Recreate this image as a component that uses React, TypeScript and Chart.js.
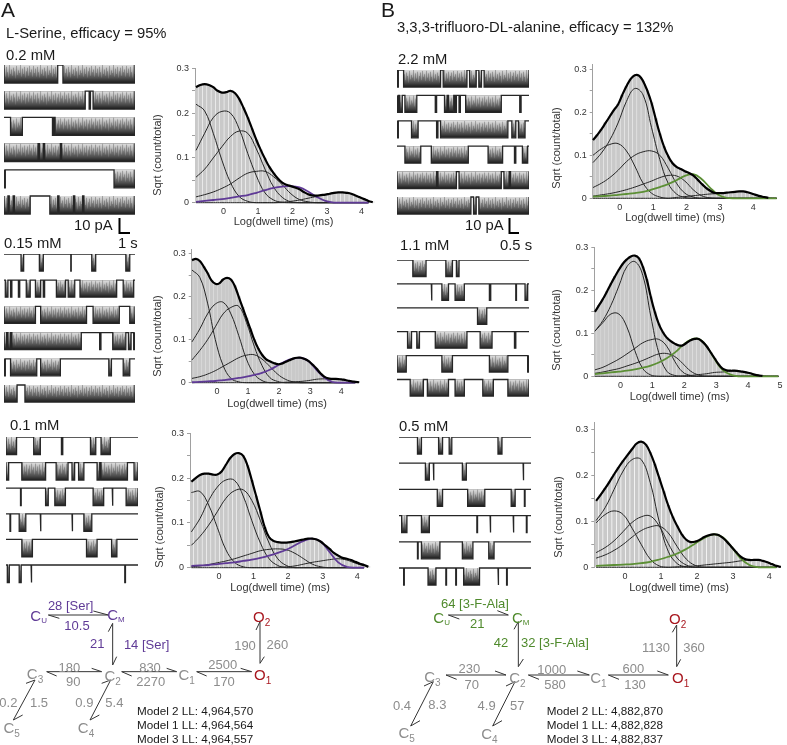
import React, { useEffect, useRef } from "react";
import { Chart, registerables } from "chart.js";

Chart.register(...registerables);
const FONT = '"Liberation Sans", Arial, sans-serif';
Chart.defaults.font.family = FONT;

// ---------- histogram bins and fitted curve grid (log10 dwell, ms) ----------
const binCenters = [-0.8,-0.675,-0.55,-0.425,-0.3,-0.175,-0.05,0.075,0.2,0.325,0.45,0.575,0.7,0.825,0.95,1.075,1.2,1.325,1.45,1.575,1.7,1.825,1.95,2.075,2.2,2.325,2.45,2.575,2.7,2.825,2.95,3.075,3.2,3.325,3.45,3.575,3.7,3.825,3.95,4.075,4.2,4.325,4.45,4.575,4.7,4.825,4.95];
const curveGrid = [-0.8,-0.55,-0.3,-0.05,0.2,0.45,0.7,0.95,1.2,1.45,1.7,1.95,2.2,2.45,2.7,2.95,3.2,3.45,3.7,3.95,4.2,4.45,4.7,4.95];

// ---------- panel A, 0.2 mM ----------
const a1Total = [.258,.263,.265,.263,.258,.25,.246,.247,.25,.245,.232,.212,.19,.165,.14,.118,.098,.08,.066,.054,.045,.04,.037,.034,.03,.024,.019,.016,.016,.017,.018,.02,.022,.023,.023,.022,.02,.016,.012,.008,.004,.001];
const a1C1 = [.22,.205,.155,.095,.045,.014,.003];
const a1C2 = [.117,.155,.19,.204,.2,.165,.11,.06,.022,.006,.001];
const a1C3 = [.057,.075,.1,.125,.148,.16,.155,.12,.075,.035,.012,.002];
const a1C4 = [.013,.018,.024,.032,.042,.055,.066,.07,.07,.058,.04,.02,.007,.002];
const a1C5 = [0,0,0,0,0,0,0,0,0,0,.001,.003,.006,.01,.014,.018,.022,.023,.02,.012,.004];
const a1Col = [.002,.004,.006,.008,.011,.014,.017,.022,.028,.033,.036,.037,.034,.025,.013,.004];

// ---------- panel A, 0.15 mM ----------
const a2Total = [.285,.288,.283,.27,.255,.238,.23,.231,.24,.244,.24,.225,.2,.175,.15,.125,.1,.08,.065,.055,.05,.046,.043,.044,.048,.052,.056,.058,.058,.055,.05,.042,.033,.022,.014,.01,.009,.009,.008,.007,.005,.003,.002,.001];
const a2C1 = [.262,.245,.185,.1,.04,.01,.002];
const a2C2 = [.095,.125,.16,.183,.187,.16,.11,.055,.02,.005];
const a2C3 = [.053,.075,.1,.13,.16,.175,.178,.14,.085,.04,.012,.003];
const a2C4 = [.01,.014,.02,.028,.038,.048,.058,.064,.065,.055,.038,.02,.008,.002];
const a2C5 = [0,0,0,0,0,0,0,0,0,0,0,0,.001,.002,.003,.005,.008,.009,.009,.008,.005,.002];
const a2Col = [.001,.002,.003,.004,.006,.008,.011,.014,.018,.023,.03,.04,.05,.056,.058,.05,.03,.012,.002];

// ---------- panel A, 0.1 mM ----------
const a3Total = [.192,.2,.207,.21,.21,.208,.208,.215,.23,.245,.254,.256,.25,.228,.195,.16,.125,.09,.068,.06,.057,.056,.056,.057,.059,.061,.063,.065,.065,.063,.058,.05,.042,.033,.027,.022,.02,.017,.013,.009,.006,.002];
const a3C1 = [.168,.17,.14,.09,.04,.012,.002];
const a3C2 = [.08,.11,.15,.18,.196,.195,.16,.105,.055,.02,.005];
const a3C3 = [.05,.07,.095,.125,.155,.172,.174,.15,.105,.055,.02,.005];
const a3C4 = [.002,.004,.007,.011,.015,.02,.026,.032,.038,.041,.042,.04,.032,.02,.008,.002];
const a3C5 = [0,0,0,0,0,0,0,0,0,0,.001,.002,.004,.008,.012,.015,.018,.02,.017,.01,.004];
const a3Col = [.004,.005,.006,.008,.01,.012,.015,.018,.022,.027,.033,.04,.05,.06,.065,.058,.035,.012,.002];

// ---------- panel B, 2.2 mM ----------
const b1Total = [.135,.147,.16,.175,.19,.205,.218,.24,.26,.277,.286,.285,.272,.25,.222,.185,.15,.12,.098,.082,.073,.068,.063,.059,.053,.044,.034,.025,.018,.013,.012,.012,.013,.014,.015,.016,.016,.014,.011,.008,.005,.003,.001];
const b1C1 = [.083,.105,.135,.175,.225,.255,.24,.165,.09,.035,.01,.002];
const b1C2 = [.1,.115,.125,.127,.11,.075,.035,.012,.003];
const b1C3 = [.025,.035,.048,.065,.085,.1,.108,.11,.1,.07,.035,.012,.003];
const b1C4 = [.005,.008,.011,.015,.02,.026,.033,.04,.048,.053,.052,.04,.02,.006,.001];
const b1C5 = [0,0,0,0,0,0,0,0,0,0,.002,.004,.006,.008,.01,.011,.013,.015,.016,.011,.005,.001];
const b1Col = [.004,.005,.006,.008,.01,.012,.015,.02,.026,.033,.042,.052,.056,.045,.025,.008,.001];

// ---------- panel B, 1.1 mM ----------
const b2Total = [.15,.165,.18,.197,.215,.232,.248,.262,.272,.279,.281,.275,.255,.225,.185,.15,.122,.103,.09,.082,.076,.072,.072,.078,.084,.087,.087,.08,.07,.056,.042,.028,.018,.014,.013,.013,.012,.011,.009,.007,.004,.002,.001];
const b2C1 = [.105,.13,.165,.21,.255,.267,.235,.14,.055,.012,.002];
const b2C2 = [.105,.125,.145,.145,.115,.06,.018,.003];
const b2C3 = [.015,.021,.03,.04,.052,.065,.078,.085,.086,.07,.035,.01,.002];
const b2C4 = [.007,.01,.014,.018,.024,.03,.037,.045,.052,.053,.046,.03,.012,.003];
const b2C5 = [0,0,0,0,0,0,0,0,0,0,0,.001,.002,.004,.006,.009,.01,.012,.012,.009,.004,.001];
const b2Col = [.005,.007,.009,.011,.013,.016,.02,.025,.032,.042,.055,.072,.085,.087,.07,.04,.015,.004];

// ---------- panel B, 0.5 mM ----------
const b3Total = [.145,.158,.172,.187,.203,.218,.232,.245,.258,.27,.274,.268,.25,.225,.195,.165,.135,.11,.09,.072,.06,.055,.056,.06,.066,.07,.072,.071,.065,.056,.045,.034,.024,.018,.016,.016,.016,.014,.011,.007,.003,.001];
const b3C1 = [.102,.13,.17,.21,.235,.235,.185,.1,.035,.008,.001];
const b3C2 = [.097,.115,.123,.115,.085,.05,.018,.003];
const b3C3 = [.032,.043,.058,.078,.098,.11,.112,.09,.052,.02,.005];
const b3C4 = [.02,.027,.037,.05,.066,.08,.088,.09,.075,.045,.018,.004];
const b3C5 = [0,0,0,0,0,0,0,0,0,.001,.002,.003,.005,.007,.009,.011,.014,.016,.016,.011,.003];
const b3Col = [.003,.004,.005,.006,.007,.009,.012,.017,.023,.03,.04,.052,.064,.072,.066,.045,.02,.005];

// ---------- single-channel records: burst intervals, % of record width ----------
const traceA1 = [
  [[0,41],[45,100]],
  [[0,62],[65,66],[68,100]],
  [[5,14],[37,38],[39,100]],
  [[0,26],[27,30],[31,43],[44,100]],
  [[0,1],[84,100]],
  [[0,3],[4,7],[8,20],[35,41],[42,53],[54,60],[61,100]],
];
const traceA2 = [
  [[13,15],[27,30],[51,51.3],[67,70],[93,96]],
  [[1,3],[5,6],[11,12],[17,20],[24,28],[30,31],[40,47],[49,54],[58,86],[91,99]],
  [[0,24],[28,63],[68,88],[96,100]],
  [[0,2],[3,5],[6,59],[73,74],[83,93],[95,97],[99,100]],
  [[0,1],[5,25],[28,43],[80,82],[91,96]],
  [[0,10],[16,100]],
];
const traceA3 = [
  [[0,8],[21,26],[42,43],[64,68],[72,79]],
  [[0,2],[12,30],[38,47],[50,52],[55,59],[69,71],[72,92],[97,100]],
  [[11,11.5],[30,32],[37,45],[66,74],[80.5,81],[91,100]],
  [[3,3.5],[10,15],[26,26.5],[50,50.5],[59,65]],
  [[12,20],[61,69],[80,84]],
  [[1,2.5],[10,11.5],[19,19.5],[90,90.5]],
];
const traceB1 = [
  [[0,1],[5,33],[35,53],[55,60],[62,64],[66,100]],
  [[0,1],[2,4],[6,15],[29,30],[36,38],[39,43],[44,45],[47,48],[52,79],[93,94]],
  [[0,1],[11,16],[30,31],[33,84],[87,90],[92,97]],
  [[6,18],[26,54],[69,80],[89,90],[95,99]],
  [[0,30],[31,45],[47,79],[81,85],[86,100]],
  [[0,56],[58,60],[62,100]],
];
const traceB2 = [
  [[12,22],[37,42],[45,47]],
  [[26,26.5],[34,39],[44,51],[70,71],[90,90.5],[97,99]],
  [[61,68]],
  [[8,11],[15,17],[29,53],[63,72],[89,90]],
  [[0,7],[34,42],[70,84],[99,100]],
  [[10,20],[23,39],[44,51],[65,73],[84,100]],
];
const traceB3 = [
  [[14,17],[30,33],[38,40],[75,78]],
  [[20,23],[26,26.5],[48,51],[94,94.5]],
  [[29,33],[52,65],[85,88],[95,95.5]],
  [[2,6],[17,23],[59,59.5],[69,69.5],[86.5,87],[96.5,97]],
  [[14,14.5],[17,31],[48,56],[68,72]],
  [[3.5,4],[22,28],[35.5,36],[43,43.5],[49,61],[75,75.5],[81.5,82]],
];
const streakHeights = [.95,.55,.8,.35,.9,.6,.3,1,.5,.75,.4,.85,.65,.25,.95,.45,.7,.55,1,.35,.8,.5,.9,.3,.65,.85,.4,.95,.6,.75,.35];

// ---------- layout of the panels on the page ----------
const histPanels = [
  { total:a1Total, comps:[a1C1,a1C2,a1C3,a1C4,a1C5], fit:a1Col, color:"#5f3a96", axisX:195, y0:202.7, yTop:64.3, yMax:.3, xMin:-.83, xMax:4.41, right:375.7, drop:19.5, titleX:158, titleY:155, xTitleX:283.5 },
  { total:a2Total, comps:[a2C1,a2C2,a2C3,a2C4,a2C5], fit:a2Col, color:"#5f3a96", axisX:191.7, y0:382.7, yTop:244.5, yMax:.31, xMin:-.81, xMax:4.6, right:360, drop:21.6, titleX:158, titleY:336, xTitleX:277 },
  { total:a3Total, comps:[a3C1,a3C2,a3C3,a3C4,a3C5], fit:a3Col, color:"#5f3a96", axisX:190, y0:567.7, yTop:429.3, yMax:.3, xMin:-.84, xMax:4.4, right:371, drop:20, titleX:160, titleY:527, xTitleX:280 },
  { total:b1Total, comps:[b1C1,b1C2,b1C3,b1C4,b1C5], fit:b1Col, color:"#5c8f35", axisX:592.7, y0:198.3, yTop:60, yMax:.311, xMin:-.81, xMax:4.8, right:780, drop:20, titleX:557, titleY:148, xTitleX:675 },
  { total:b2Total, comps:[b2C1,b2C2,b2C3,b2C4,b2C5], fit:b2Col, color:"#5c8f35", axisX:594.3, y0:376.3, yTop:243, yMax:.3, xMin:-.82, xMax:5, right:780, drop:20.7, titleX:557, titleY:330, xTitleX:679.5 },
  { total:b3Total, comps:[b3C1,b3C2,b3C3,b3C4,b3C5], fit:b3Col, color:"#5c8f35", axisX:594.3, y0:567.3, yTop:418, yMax:.316, xMin:-.85, xMax:4.3, right:780, drop:21, titleX:559, titleY:517, xTitleX:679 },
];
const tracePanels = [
  { rows:traceA1, left:4, width:131, top:65, pitch:26.2, band:18 },
  { rows:traceA2, left:4, width:131, top:254, pitch:26.2, band:17 },
  { rows:traceA3, left:6, width:132, top:437, pitch:25.6, band:17.5 },
  { rows:traceB1, left:397, width:132, top:70, pitch:25.4, band:17 },
  { rows:traceB2, left:397, width:132, top:260, pitch:23.9, band:16.5 },
  { rows:traceB3, left:399, width:132, top:437, pitch:26.2, band:17 },
];

function useChart(make: () => any) {
  const ref = useRef<HTMLCanvasElement>(null);
  useEffect(() => {
    const chart = new Chart(ref.current as HTMLCanvasElement, make());
    return () => chart.destroy();
  }, []);
  return ref;
}

function Histogram({ p }: { p: any }) {
  const left = Math.round(p.axisX - 50);
  const leftW = p.axisX - left;
  const top = Math.round(p.yTop - 4);
  const pad = p.yTop - top;
  const h = Math.ceil(p.y0 - top + p.drop + 7);
  const xH = h - (p.y0 - top);
  const w = Math.ceil(p.right - left + 7);
  const ref = useChart(() => {
    const curve = (arr: number[], color: string, width: number, order: number) => ({
      type: "line",
      data: curveGrid.filter((x) => x <= p.xMax).map((x, i) => ({ x, y: arr[i] ?? 0 })),
      borderColor: color,
      borderWidth: width,
      pointRadius: 0,
      tension: 0.4,
      clip: false,
      order,
    });
    return {
      type: "bar",
      data: {
        datasets: [
          { type: "bar", data: p.total.map((y: number, i: number) => ({ x: binCenters[i], y })), backgroundColor: "#c9c9c9", barThickness: 3.1, order: 9 },
          ...p.comps.map((c: number[]) => curve(c, "#262626", 1, 5)),
          curve(p.fit, p.color, 1.8, 3),
          {
            type: "line",
            data: p.total.map((y: number, i: number) => ({ x: binCenters[i], y })),
            borderColor: "#000",
            borderWidth: 2.2,
            pointRadius: 0,
            tension: 0.4,
            clip: false,
            order: 1,
          },
        ],
      },
      options: {
        animation: false,
        responsive: false,
        events: [],
        layout: { padding: { top: pad, right: w - (p.right - left), left: 0, bottom: 0 } },
        plugins: { legend: { display: false }, tooltip: { enabled: false } },
        scales: {
          x: {
            type: "linear",
            min: p.xMin,
            max: p.xMax,
            offset: false,
            grid: { display: false, drawTicks: false },
            border: { display: false },
            afterFit: (s: any) => { s.height = xH; },
            ticks: { stepSize: 1, includeBounds: false, autoSkip: false, maxRotation: 0, padding: 3.5, color: "#333", font: { size: 9 }, callback: (v: number) => String(v) },
          },
          y: {
            min: 0,
            max: p.yMax,
            grid: { drawOnChartArea: false, tickLength: 3, tickColor: "#a0a0a0" },
            border: { color: "#a0a0a0" },
            afterFit: (s: any) => { s.width = leftW; },
            ticks: {
              stepSize: 0.05, includeBounds: false, autoSkip: false, padding: 3, color: "#333", font: { size: 9 },
              callback: (v: number) => {
                const k = Math.round(v * 100);
                return k % 10 === 0 ? String(k / 100) : "";
              },
            },
          },
        },
      },
      plugins: [{
        id: "axisTitles",
        afterDraw(chart: any) {
          const c = chart.ctx;
          c.save();
          c.font = `11px ${FONT}`;
          c.fillStyle = "#333";
          c.textAlign = "center";
          c.textBaseline = "middle";
          c.fillText("Log(dwell time) (ms)", p.xTitleX - left, p.y0 + p.drop - top);
          c.translate(p.titleX - left, p.titleY - top);
          c.rotate(-Math.PI / 2);
          c.fillText("Sqrt (count/total)", 0, 0);
          c.restore();
        },
      }],
    };
  });
  return <canvas ref={ref} width={w} height={h} style={{ position: "absolute", left, top, width: w, height: h }} />;
}

function streakPattern(ctx: CanvasRenderingContext2D, band: number, rowTop: number) {
  const tile = document.createElement("canvas");
  const th = Math.ceil(band);
  tile.width = streakHeights.length;
  tile.height = th;
  const t = tile.getContext("2d") as CanvasRenderingContext2D;
  const g = t.createLinearGradient(0, 0, 0, th);
  g.addColorStop(0, "rgba(170,170,170,.4)");
  g.addColorStop(0.55, "rgba(105,105,105,.8)");
  g.addColorStop(0.85, "rgba(50,50,50,.95)");
  g.addColorStop(1, "rgba(15,15,15,1)");
  t.fillStyle = g;
  t.fillRect(0, 0, tile.width, th);
  t.fillStyle = "rgba(45,45,45,.32)";
  streakHeights.forEach((f, x) => t.fillRect(x, th * (1 - f), 1, th * f));
  const pat = ctx.createPattern(tile, "repeat") as CanvasPattern;
  pat.setTransform(new DOMMatrix().translate(0, rowTop));
  return pat;
}

function TraceBlock({ p }: { p: any }) {
  const pad = 2;
  const left = p.left - pad;
  const top = p.top - pad;
  const w = p.width + 2 * pad;
  const h = Math.ceil(p.pitch * 6 + 2 * pad);
  const ref = useChart(() => {
    const ctx = document.createElement("canvas").getContext("2d") as CanvasRenderingContext2D;
    const low = p.band / p.pitch;
    return {
      type: "line",
      data: {
        datasets: p.rows.map((bursts: number[][], i: number) => {
          const path: { x: number; y: number }[] = [{ x: 0, y: i }];
          bursts.forEach(([a, b]) => {
            path.push({ x: a, y: i }, { x: a, y: i + low }, { x: b, y: i + low }, { x: b, y: i });
          });
          path.push({ x: 100, y: i });
          return {
            data: path,
            borderColor: "#262626",
            borderWidth: 1.3,
            pointRadius: 0,
            tension: 0,
            fill: { target: { value: i } },
            backgroundColor: streakPattern(ctx, p.band, pad + i * p.pitch),
          };
        }),
      },
      options: {
        animation: false,
        responsive: false,
        events: [],
        layout: { padding: { top: pad, left: pad, right: pad, bottom: h - pad - p.pitch * 6 } },
        plugins: { legend: { display: false }, tooltip: { enabled: false } },
        scales: {
          x: { type: "linear", display: false, min: 0, max: 100 },
          y: { type: "linear", display: false, min: 0, max: 6, reverse: true },
        },
      },
    };
  });
  return <canvas ref={ref} width={w} height={h} style={{ position: "absolute", left, top, width: w, height: h }} />;
}

// ---------- page text and kinetic schemes ----------
const GREY = "#8c8c8c";
const RED = "#a8171f";
const PURPLE = "#5f3a96";
const GREEN = "#4f8a2c";

function T({ x, y, c, s = 13, children, left = false }: any) {
  return (
    <span style={{ position: "absolute", left: x, top: y, transform: left ? "translateY(-50%)" : "translate(-50%,-50%)", color: c || "#1a1a1a", fontSize: s, fontFamily: FONT, whiteSpace: "nowrap", lineHeight: 1 }}>
      {children}
    </span>
  );
}
function St({ x, y, c, n, i, tiny }: any) {
  return (
    <T x={x} y={y} c={c} s={15}>
      {n}
      <span style={{ fontSize: tiny ? 8 : 10, position: "relative", top: tiny ? 2 : 4 }}>{i}</span>
    </T>
  );
}

const schemeAEdges = [
  [145,45,325,45,178,55,280,33],
  [338,195,338,70,350,170,325,95],
  [140,215,305,215,170,228,275,205],
  [365,215,530,215,395,228,500,205],
  [590,215,755,215,620,228,722,205],
  [780,190,780,65,793,170,768,90],
  [105,240,40,360,78,250,68,345],
  [332,240,270,360,305,250,298,345],
];
const schemeBEdges = [
  [145,45,325,45,178,57,292,32],
  [355,200,355,65,370,177,342,88],
  [138,225,318,225,170,238,285,213],
  [385,225,568,225,417,238,532,213],
  [625,225,805,225,657,238,772,213],
  [830,200,830,75,842,178,817,97],
  [100,245,32,378,72,258,60,362],
  [345,245,278,378,318,258,306,362],
];
function Edges({ edges, ox, oy }: any) {
  return (
    <>
      {edges.map((e: number[], k: number) => {
        const [x1, y1, x2, y2, bx1, by1, bx2, by2] = e.map((v, j) => (j % 2 ? oy + v / 3 : ox + v / 3));
        return (
          <g key={k} stroke="#333" strokeWidth={1} fill="none">
            <line x1={x1} y1={y1} x2={x2} y2={y2} />
            <line x1={x1} y1={y1} x2={bx1} y2={by1} />
            <line x1={x2} y1={y2} x2={bx2} y2={by2} />
          </g>
        );
      })}
    </>
  );
}

export default function App() {
  const za = (x: number) => x / 3;
  const zy = (y: number) => 600 + y / 3;
  const zb = (x: number) => 400 + x / 3;
  return (
    <div style={{ position: "absolute", left: 0, top: 0, width: 787, height: 745, background: "#fff", overflow: "hidden" }}>
      {tracePanels.map((p, i) => <TraceBlock key={i} p={p} />)}
      {histPanels.map((p, i) => <Histogram key={i} p={p} />)}

      <svg width={787} height={745} style={{ position: "absolute", left: 0, top: 0 }}>
        <Edges edges={schemeAEdges} ox={0} oy={600} />
        <Edges edges={schemeBEdges} ox={400} oy={600} />
        <path d="M119.5 218V233H130" stroke="#000" strokeWidth={2} fill="none" />
        <path d="M509.5 218V233H519" stroke="#000" strokeWidth={2} fill="none" />
      </svg>

      <T x={1} y={9} s={21} left>A</T>
      <T x={381} y={9} s={21} left>B</T>
      <T x={6} y={33} s={14.8} left>L-Serine, efficacy = 95%</T>
      <T x={397} y={27} s={14.8} left>3,3,3-trifluoro-DL-alanine, efficacy = 132%</T>
      <T x={6} y={55} s={14.8} left>0.2 mM</T>
      <T x={74} y={225} s={14.8} left>10 pA</T>
      <T x={118} y={243} s={14.8} left>1 s</T>
      <T x={4} y={243} s={14.8} left>0.15 mM</T>
      <T x={10} y={425} s={14.8} left>0.1 mM</T>
      <T x={398} y={59} s={14.8} left>2.2 mM</T>
      <T x={465} y={225} s={14.8} left>10 pA</T>
      <T x={500} y={245} s={14.8} left>0.5 s</T>
      <T x={400} y={245} s={14.8} left>1.1 mM</T>
      <T x={399} y={426} s={14.8} left>0.5 mM</T>

      {/* scheme A */}
      <St x={za(116)} y={zy(45)} c={PURPLE} n="C" i="U" tiny />
      <St x={za(348)} y={zy(43)} c={PURPLE} n="C" i="M" tiny />
      <T x={za(212)} y={zy(15)} c={PURPLE}>28 [Ser]</T>
      <T x={za(231)} y={zy(75)} c={PURPLE}>10.5</T>
      <T x={za(292)} y={zy(130)} c={PURPLE}>21</T>
      <T x={za(440)} y={zy(132)} c={PURPLE}>14 [Ser]</T>
      <St x={za(105)} y={zy(220)} c={GREY} n="C" i="3" />
      <St x={za(338)} y={zy(225)} c={GREY} n="C" i="2" />
      <St x={za(560)} y={zy(222)} c={GREY} n="C" i="1" />
      <St x={za(788)} y={zy(222)} c={RED} n="O" i="1" />
      <St x={za(785)} y={zy(48)} c={RED} n="O" i="2" />
      <St x={za(35)} y={zy(382)} c={GREY} n="C" i="5" />
      <St x={za(258)} y={zy(382)} c={GREY} n="C" i="4" />
      <T x={za(208)} y={zy(200)} c={GREY}>180</T>
      <T x={za(220)} y={zy(242)} c={GREY}>90</T>
      <T x={za(450)} y={zy(200)} c={GREY}>830</T>
      <T x={za(452)} y={zy(243)} c={GREY}>2270</T>
      <T x={za(668)} y={zy(193)} c={GREY}>2500</T>
      <T x={za(672)} y={zy(243)} c={GREY}>170</T>
      <T x={za(735)} y={zy(135)} c={GREY}>190</T>
      <T x={za(832)} y={zy(132)} c={GREY}>260</T>
      <T x={za(25)} y={zy(305)} c={GREY}>0.2</T>
      <T x={za(117)} y={zy(305)} c={GREY}>1.5</T>
      <T x={za(253)} y={zy(305)} c={GREY}>0.9</T>
      <T x={za(343)} y={zy(305)} c={GREY}>5.4</T>
      <T x={137} y={zy(332)} s={11.7} left>Model 2 LL: 4,964,570</T>
      <T x={137} y={zy(375)} s={11.7} left>Model 1 LL: 4,964,564</T>
      <T x={137} y={zy(417)} s={11.7} left>Model 3 LL: 4,964,557</T>

      {/* scheme B */}
      <St x={zb(125)} y={zy(52)} c={GREEN} n="C" i="U" tiny />
      <St x={zb(362)} y={zy(52)} c={GREEN} n="C" i="M" tiny />
      <T x={zb(225)} y={zy(8)} c={GREEN}>64 [3-F-Ala]</T>
      <T x={zb(232)} y={zy(70)} c={GREEN}>21</T>
      <T x={zb(303)} y={zy(125)} c={GREEN}>42</T>
      <T x={zb(465)} y={zy(127)} c={GREEN}>32 [3-F-Ala]</T>
      <St x={zb(97)} y={zy(228)} c={GREY} n="C" i="3" />
      <St x={zb(352)} y={zy(232)} c={GREY} n="C" i="2" />
      <St x={zb(595)} y={zy(230)} c={GREY} n="C" i="1" />
      <St x={zb(842)} y={zy(230)} c={RED} n="O" i="1" />
      <St x={zb(833)} y={zy(55)} c={RED} n="O" i="2" />
      <St x={zb(20)} y={zy(395)} c={GREY} n="C" i="5" />
      <St x={zb(268)} y={zy(400)} c={GREY} n="C" i="4" />
      <T x={zb(208)} y={zy(205)} c={GREY}>230</T>
      <T x={zb(215)} y={zy(252)} c={GREY}>70</T>
      <T x={zb(455)} y={zy(207)} c={GREY}>1000</T>
      <T x={zb(465)} y={zy(253)} c={GREY}>580</T>
      <T x={zb(700)} y={zy(205)} c={GREY}>600</T>
      <T x={zb(705)} y={zy(252)} c={GREY}>130</T>
      <T x={zb(768)} y={zy(142)} c={GREY}>1130</T>
      <T x={zb(882)} y={zy(142)} c={GREY}>360</T>
      <T x={402} y={zy(315)} c={GREY}>0.4</T>
      <T x={zb(112)} y={zy(313)} c={GREY}>8.3</T>
      <T x={zb(260)} y={zy(315)} c={GREY}>4.9</T>
      <T x={zb(352)} y={zy(315)} c={GREY}>57</T>
      <T x={zb(440)} y={zy(332)} s={11.7} left>Model 2 LL: 4,882,870</T>
      <T x={zb(440)} y={zy(375)} s={11.7} left>Model 1 LL: 4,882,828</T>
      <T x={zb(440)} y={zy(417)} s={11.7} left>Model 3 LL: 4,882,837</T>
    </div>
  );
}
